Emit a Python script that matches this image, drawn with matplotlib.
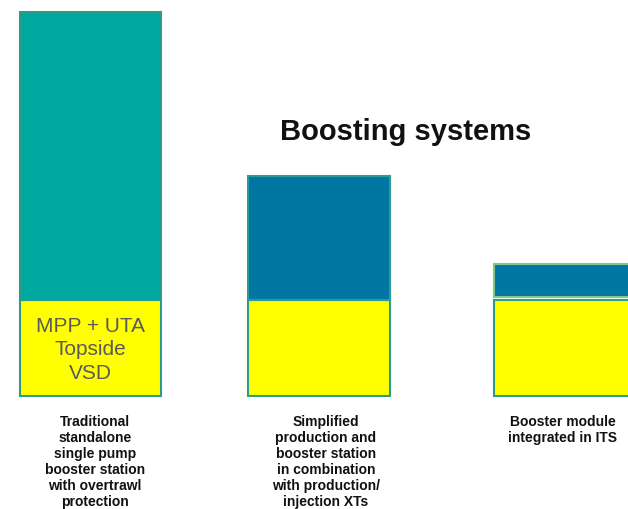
import matplotlib
matplotlib.use("Agg")
import matplotlib.pyplot as plt

# ---- data ----
categories = [
    "Traditional\nstandalone\nsingle pump\nbooster station\nwith overtrawl\nprotection",
    "Simplified\nproduction and\nbooster station\nin combination\nwith production/\ninjection XTs",
    "Booster module\nintegrated in ITS",
]
base_values = [1.0, 1.0, 1.0]          # MPP + UTA / Topside VSD part
upper_values = [3.0, 1.29, 0.345]       # system-specific part
upper_gap = [0.0, 0.0, 0.03]
base_label = "MPP + UTA\nTopside\nVSD"
title = "Boosting systems"

# ---- layout / style ----
xpos = [0.0, 1.0, 2.077]
label_dx = [0.02, 0.03, -0.01]
width = 0.62
upper_colors = ["#00A9A0", "#0077A3", "#0077A3"]
upper_edges = ["#2E9A88", "#2E9A98", "#7CC98A"]
yellow = "#FFFF00"
edge = "#2E9A88"

fig = plt.figure(figsize=(6.28, 5.10), dpi=100)
ax = fig.add_axes([0, 0, 1, 1])
ax.set_xlim(-0.396, 2.352)
ax.set_ylim(-1.177, 4.135)
ax.axis("off")

ax.bar(xpos, base_values, width=width, color=yellow, edgecolor=edge, linewidth=1.5)
bottoms = [b + g for b, g in zip(base_values, upper_gap)]
for x, h, b, c, ec in zip(xpos, upper_values, bottoms, upper_colors, upper_edges):
    ax.bar(x, h, width=width, bottom=b, color=c, edgecolor=ec, linewidth=1.5)

ax.text(xpos[0], 0.49, base_label, ha="center", va="center",
        fontsize=15, color="#5a5a5a", family="Liberation Sans", linespacing=1.32)

ax.text(1.38, 2.76, title, ha="center", va="center", fontsize=21,
        fontweight="bold", family="Liberation Sans", color="#111111")

for x, dx, lab in zip(xpos, label_dx, categories):
    ax.text(x + dx, -0.19, lab, ha="center", va="top", fontsize=10,
            fontweight="bold", family="Liberation Sans", color="#111111",
            linespacing=1.17)

fig.savefig("out.png", dpi=100)
